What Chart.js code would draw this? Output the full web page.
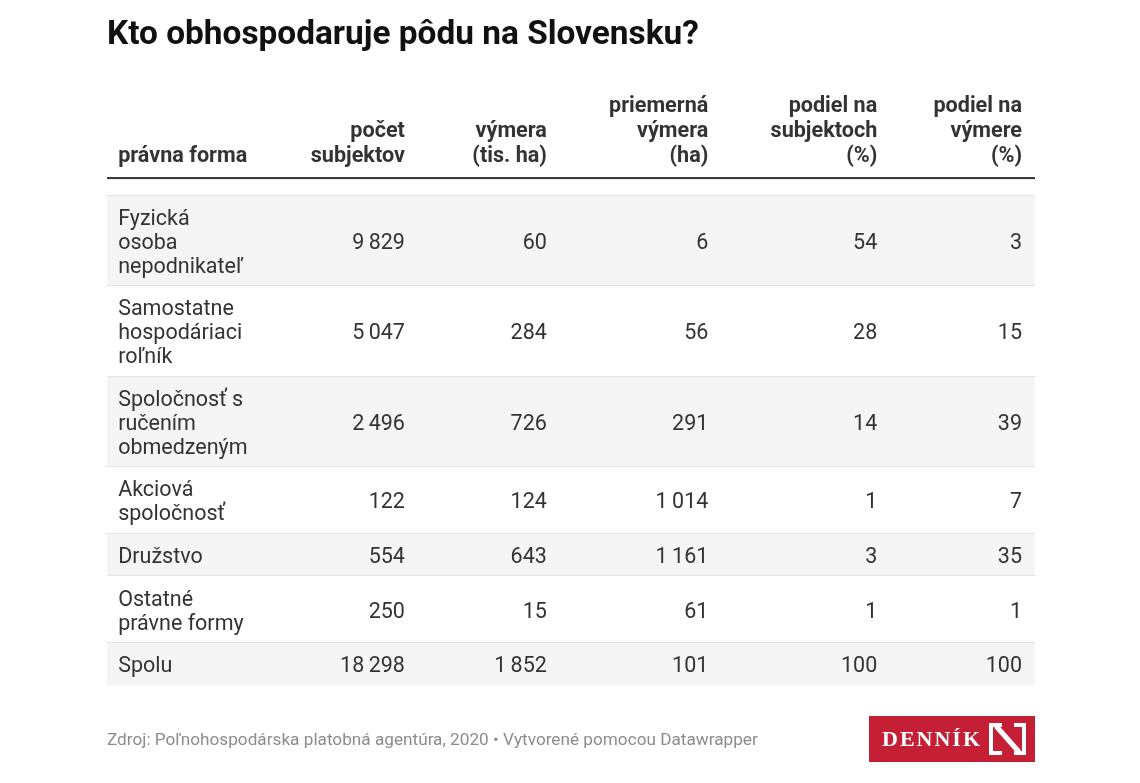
<!DOCTYPE html>
<html lang="sk">
<head>
<meta charset="utf-8">
<title>Kto obhospodaruje pôdu na Slovensku?</title>
<script src="https://cdn.jsdelivr.net/npm/chart.js@4.4.1/dist/chart.umd.min.js"></script>
<style>
  html, body { margin: 0; padding: 0; background: #fff; }
  #wrap { width: 1140px; height: 783px; position: relative; }
</style>
</head>
<body>
<div id="wrap"><canvas id="table"></canvas></div>
<script>
// data
const forms = [
  ['Fyzická', 'osoba', 'nepodnikateľ'],
  ['Samostatne', 'hospodáriaci', 'roľník'],
  ['Spoločnosť s', 'ručením', 'obmedzeným'],
  ['Akciová', 'spoločnosť'],
  ['Družstvo'],
  ['Ostatné', 'právne formy'],
  ['Spolu']
];
const subjects = [9829, 5047, 2496, 122, 554, 250, 18298];
const area = [60, 284, 726, 124, 643, 15, 1852];
const avgArea = [6, 56, 291, 1014, 1161, 61, 101];
const shareSubjects = [54, 28, 14, 1, 3, 1, 100];
const shareArea = [3, 15, 39, 7, 35, 1, 100];
const headers = [
  ['právna forma'],
  ['počet', 'subjektov'],
  ['výmera', '(tis. ha)'],
  ['priemerná', 'výmera', '(ha)'],
  ['podiel na', 'subjektoch', '(%)'],
  ['podiel na', 'výmere', '(%)']
];
const columns = [forms, subjects, area, avgArea, shareSubjects, shareArea];

// layout
const LINE = 24, PAD = 19;
const colX = [1.2, 32.1, 47.4, 64.8, 83.0, 98.6]; // % of table width (first = left edge, rest = right edge)
const FONT = 'Roboto, "Noto Sans", sans-serif';

const rowTop = [];
let acc = 0;
forms.forEach(f => { rowTop.push(acc); acc += f.length * LINE + PAD; });
const total = acc;
const rowMid = forms.map((f, i) => rowTop[i] + (f.length * LINE + PAD) / 2);
const bounds = rowTop.concat([total]);

function fmt(n) {
  return String(n).replace(/\B(?=(\d{3})+(?!\d))/g, '\u2009');
}

const tablePlugin = {
  id: 'tablePlugin',
  beforeDraw(chart) {
    const { ctx, chartArea, scales: { y } } = chart;
    ctx.save();
    ctx.fillStyle = '#f5f5f5';
    forms.forEach((f, i) => {
      if (i % 2) return;
      const top = y.getPixelForValue(rowTop[i]);
      const bot = y.getPixelForValue(bounds[i + 1]);
      ctx.fillRect(chartArea.left, top, chartArea.right - chartArea.left, bot - top);
    });
    ctx.restore();
  },
  afterDatasetsDraw(chart) {
    const { ctx } = chart;
    ctx.save();
    ctx.fillStyle = '#333';
    ctx.font = '21.5px ' + FONT;
    ctx.textBaseline = 'middle';
    chart.data.datasets.forEach((ds, di) => {
      const meta = chart.getDatasetMeta(di);
      ctx.textAlign = di === 0 ? 'left' : 'right';
      meta.data.forEach((pt, i) => {
        const raw = ds.data[i].label;
        const lines = Array.isArray(raw) ? raw : [fmt(raw)];
        const y0 = pt.y + 3 - (lines.length - 1) * LINE / 2;
        lines.forEach((t, k) => ctx.fillText(t, pt.x, y0 + k * LINE));
      });
    });
    ctx.restore();
  },
  afterDraw(chart) {
    const { ctx, chartArea, scales: { x } } = chart;
    ctx.save();
    // header
    ctx.fillStyle = '#333';
    ctx.font = 'bold 21.6px ' + FONT;
    ctx.textBaseline = 'middle';
    const lastY = chartArea.top - 38;
    headers.forEach((h, c) => {
      ctx.textAlign = c === 0 ? 'left' : 'right';
      const px = x.getPixelForValue(colX[c]);
      h.forEach((t, k) => ctx.fillText(t, px, lastY - (h.length - 1 - k) * 25));
    });
    ctx.fillStyle = '#333';
    ctx.fillRect(chartArea.left, chartArea.top - 18, chartArea.right - chartArea.left, 2);

    // logo
    const lx = 869, ly = 716, lw = 166, lh = 46;
    ctx.fillStyle = '#c41f35';
    ctx.fillRect(lx, ly, lw, lh);
    ctx.fillStyle = '#fff';
    ctx.font = 'bold 22px "Liberation Serif", serif';
    ctx.textAlign = 'left';
    ctx.letterSpacing = '2px';
    ctx.fillText('DENNÍK', lx + 13, ly + lh / 2 + 1);
    ctx.letterSpacing = '0px';
    ctx.strokeStyle = '#fff';
    ctx.lineWidth = 4;
    ctx.beginPath();
    ctx.moveTo(lx + 133, ly + 9); ctx.lineTo(lx + 122, ly + 9); ctx.lineTo(lx + 122, ly + 37); ctx.lineTo(lx + 133, ly + 37);
    ctx.moveTo(lx + 145, ly + 9); ctx.lineTo(lx + 155, ly + 9); ctx.lineTo(lx + 155, ly + 37); ctx.lineTo(lx + 145, ly + 37);
    ctx.stroke();
    ctx.lineWidth = 5;
    ctx.beginPath();
    ctx.moveTo(lx + 127, ly + 10); ctx.lineTo(lx + 150, ly + 36);
    ctx.stroke();
    ctx.restore();
  }
};

const datasets = columns.map((col, c) => ({
  label: headers[c].join(' '),
  data: col.map((v, i) => ({ x: colX[c], y: rowMid[i], label: v })),
  pointRadius: 0,
  pointHoverRadius: 0
}));

new Chart(document.getElementById('table'), {
  type: 'scatter',
  data: { datasets },
  options: {
    responsive: true,
    maintainAspectRatio: false,
    animation: false,
    events: [],
    layout: { padding: { top: 16, left: 107, right: 105, bottom: 32 } },
    scales: {
      x: { type: 'linear', min: 0, max: 100, display: false },
      y: {
        type: 'linear', min: 0, max: total, reverse: true,
        border: { display: false },
        ticks: { display: false },
        grid: {
          drawTicks: false,
          color: c => (c.index === bounds.length - 1 ? 'rgba(0,0,0,0)' : '#e4e4e4')
        },
        afterBuildTicks: s => { s.ticks = bounds.map(v => ({ value: v })); }
      }
    },
    plugins: {
      legend: { display: false },
      tooltip: { enabled: false },
      title: {
        display: true,
        text: 'Kto obhospodaruje pôdu na Slovensku?',
        align: 'start',
        color: '#111',
        font: { family: FONT, size: 33.4, weight: 'bold', lineHeight: 1.2 },
        padding: { top: 0, bottom: 139 }
      },
      subtitle: {
        display: true,
        position: 'bottom',
        text: 'Zdroj: Poľnohospodárska platobná agentúra, 2020 • Vytvorené pomocou Datawrapper',
        align: 'start',
        color: '#8c8c8c',
        font: { family: FONT, size: 17.2, lineHeight: 1.2 },
        padding: { top: 45, bottom: 0 }
      }
    }
  },
  plugins: [tablePlugin]
});
</script>
</body>
</html>
